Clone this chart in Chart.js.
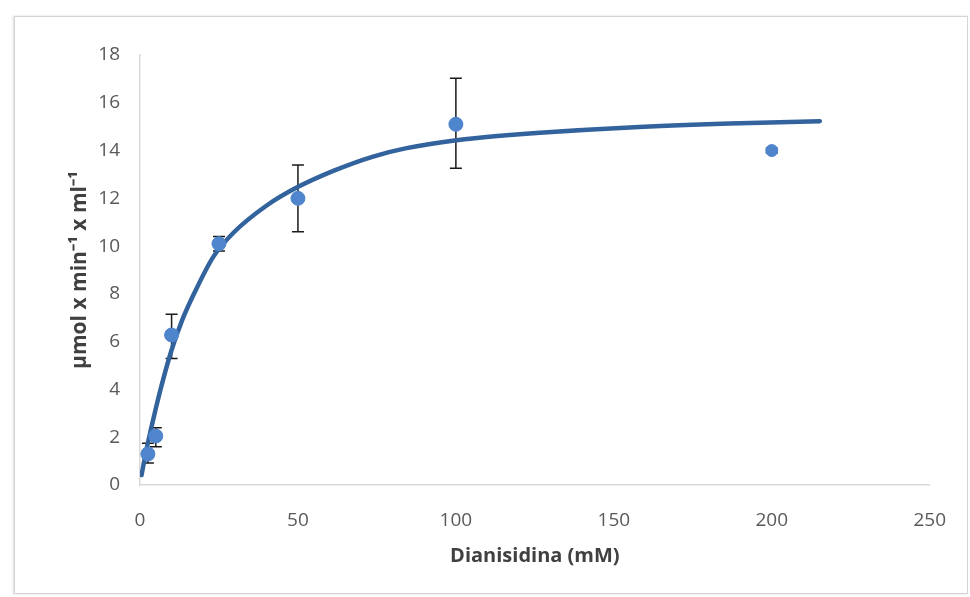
<!DOCTYPE html>
<html>
<head>
<meta charset="utf-8">
<script src="https://cdn.jsdelivr.net/npm/chart.js@4.4.1/dist/chart.umd.min.js"></script>
<style>
  html, body { margin: 0; padding: 0; background: #fff; }
  #wrap { position: relative; width: 970px; height: 597px; overflow: hidden; }
  #frame {
    position: absolute; left: 14px; top: 16px; width: 952px; height: 576px;
    border: 1px solid #d4d4d4; box-shadow: -1px 0 2px rgba(0,0,0,0.15);
  }
  canvas { position: absolute; left: 0; top: 0; }
</style>
</head>
<body>
<div id="wrap">
  <div id="frame"></div>
  <canvas id="chart" width="970" height="597"></canvas>
</div>
<script>
const concentrations = [2.5, 5, 10, 25, 50, 100, 200];
const rates = [1.3, 2.05, 6.28, 10.1, 12.0, 15.1, 14.0];
const errLow = [0.92, 1.6, 5.3, 9.8, 10.6, 13.26, 13.9];
const errHigh = [1.75, 2.4, 7.15, 10.4, 13.4, 17.03, 14.1];

// Curva ajustada (puntos leídos a lo largo de la línea)
const fitX = [0.5, 2, 3.5, 5, 7.4, 10, 13.2, 16.9, 23.2, 29.5, 40.1, 49.6, 61.2, 73.8, 84.4, 100.2, 116, 126.6, 155, 186.7, 215.2];
const fitY = [0.42, 1.45, 2.35, 3.2, 4.45, 5.65, 6.85, 7.95, 9.55, 10.55, 11.7, 12.45, 13.15, 13.75, 14.1, 14.43, 14.64, 14.75, 14.97, 15.13, 15.23];

const xTitle = 'Dianisidina (mM)';
const yTitle = 'µmol x min⁻¹ x ml⁻¹';

const FONT = "'Open Sans', 'Liberation Sans', sans-serif";

// Dibuja las barras de error bajo los puntos
const errorBars = {
    id: 'errorBars',
    beforeDatasetsDraw(chart) {
        const { ctx, scales: { x, y } } = chart;
        ctx.save();
        ctx.strokeStyle = '#1a1a1a';
        ctx.lineWidth = 1.5;
        concentrations.forEach((c, i) => {
            const px = x.getPixelForValue(c);
            const top = y.getPixelForValue(errHigh[i]);
            const bot = y.getPixelForValue(errLow[i]);
            ctx.beginPath();
            ctx.moveTo(px, top); ctx.lineTo(px, bot);
            ctx.moveTo(px - 6, top); ctx.lineTo(px + 6, top);
            ctx.moveTo(px - 6, bot); ctx.lineTo(px + 6, bot);
            ctx.stroke();
        });
        ctx.restore();
    }
};

new Chart(document.getElementById('chart'), {
    type: 'scatter',
    data: {
        datasets: [
            {
                type: 'scatter',
                data: concentrations.map((c, i) => ({ x: c, y: rates[i] })),
                backgroundColor: '#4f85cc',
                borderColor: '#4f85cc',
                pointRadius: [7, 7, 7, 7, 7, 7, 6],
                order: 0
            },
            {
                type: 'line',
                data: fitX.map((v, i) => ({ x: v, y: fitY[i] })),
                borderColor: '#33639d',
                borderWidth: 4.5,
                borderCapStyle: 'round',
                pointRadius: 0,
                cubicInterpolationMode: 'monotone',
                fill: false,
                order: 1
            }
        ]
    },
    options: {
        responsive: false,
        animation: false,
        layout: { padding: { left: 67, right: 40, top: 55, bottom: 29 } },
        plugins: { legend: { display: false }, tooltip: { enabled: false } },
        scales: {
            x: {
                type: 'linear', min: 0, max: 250,
                grid: { display: false, drawTicks: false },
                border: { display: true, color: '#d9d9d9', width: 1.5 },
                ticks: { stepSize: 50, color: '#595959', padding: 24, font: { family: FONT, size: 19 } },
                title: { display: true, text: xTitle, color: '#404040', padding: 0, font: { family: FONT, size: 20, weight: 'bold' } },
                afterFit: s => { s.height = 83; }
            },
            y: {
                min: 0, max: 18,
                grid: { display: false, drawTicks: false },
                border: { display: true, color: '#d9d9d9', width: 1.5 },
                ticks: { stepSize: 2, color: '#595959', padding: 20, font: { family: FONT, size: 19 } },
                title: { display: true, text: yTitle, color: '#404040', padding: 0, font: { family: FONT, size: 21, weight: 'bold' } },
                afterFit: s => { s.width = 73; }
            }
        }
    },
    plugins: [errorBars]
});
</script>
</body>
</html>
